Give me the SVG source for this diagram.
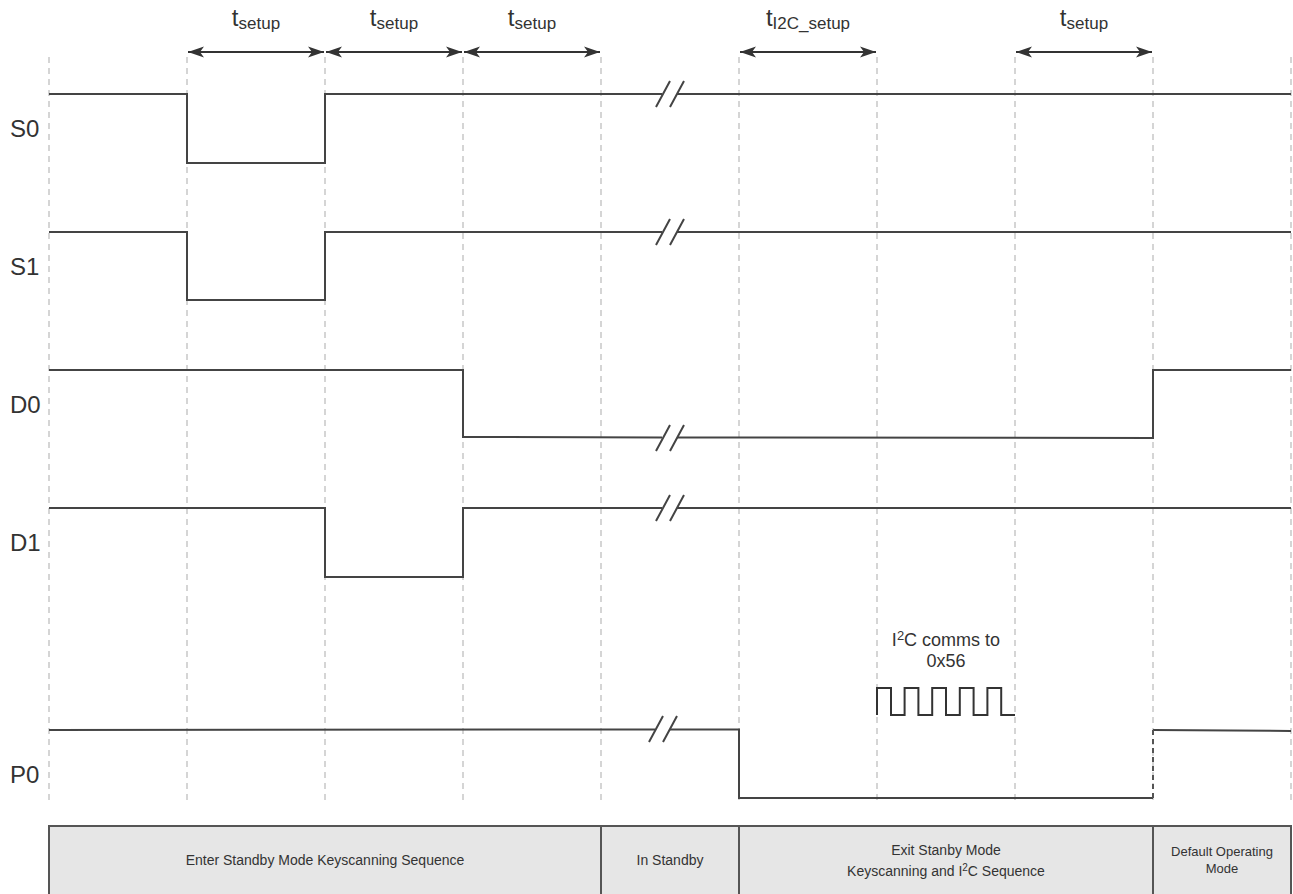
<svg xmlns="http://www.w3.org/2000/svg" width="1293" height="894" viewBox="0 0 1293 894">
<style>
text{font-family:"Liberation Sans",Arial,sans-serif;fill:#333}
.guide{stroke:#c8c8c8;stroke-width:1.5;stroke-dasharray:6 5;fill:none}
.sig{stroke:#444;stroke-width:2;fill:none}
.brk{stroke:#444;stroke-width:2;fill:none}
.dim{stroke:#333;stroke-width:2;fill:none;marker-start:url(#ah);marker-end:url(#ah)}
.lbl{font-size:24px}
.tl{font-size:24px;text-anchor:middle}
.sub{font-size:17px}
.box{fill:#e6e6e6;stroke:#555;stroke-width:2}
.bt{font-size:14px;text-anchor:middle}
.bt2{font-size:13px;text-anchor:middle}
</style>
<defs>
<marker id="ah" viewBox="-17 -6 18 12" refX="0" refY="0" markerWidth="18" markerHeight="12" markerUnits="userSpaceOnUse" orient="auto-start-reverse">
<path d="M0,0 L-16,-5.5 L-12,0 L-16,5.5 Z" fill="#333"/>
</marker>
</defs>
<g id="guides">
<path class="guide" d="M49,57V800M187,57V800M325,57V800M463,57V800M601,57V800M739,57V800M877,57V800M1015,57V800M1153,57V800M1291,57V800"/>
</g>
<g id="timing-labels">
<text class="tl" x="256" y="26">t<tspan class="sub" dy="2.5">setup</tspan></text>
<text class="tl" x="394" y="26">t<tspan class="sub" dy="2.5">setup</tspan></text>
<text class="tl" x="532" y="26">t<tspan class="sub" dy="2.5">setup</tspan></text>
<text class="tl" x="808" y="26">t<tspan class="sub" dy="2.5">I2C_setup</tspan></text>
<text class="tl" x="1084" y="26">t<tspan class="sub" dy="2.5">setup</tspan></text>
</g>
<g id="connectors">
<path class="dim" d="M188,52H324"/>
<path class="dim" d="M326,52H462"/>
<path class="dim" d="M464,52H600"/>
<path class="dim" d="M740,52H876"/>
<path class="dim" d="M1016,52H1152"/>
</g>
<g id="S0">
<text class="lbl" x="10" y="137">S0</text>
<path class="sig" d="M49,94H187V163H325V94H662M677,94H1291"/>
<path class="brk" d="M656,107L670,81M670,107L684,81"/>
</g>
<g id="S1">
<text class="lbl" x="10" y="275">S1</text>
<path class="sig" d="M49,232H187V300H325V232H662M677,232H1291"/>
<path class="brk" d="M656,245L670,219M670,245L684,219"/>
</g>
<g id="D0">
<text class="lbl" x="10" y="413">D0</text>
<path class="sig" d="M49,370H463V437L662,437.5M677,437.5L1153,438V370H1291"/>
<path class="brk" d="M656,451L670,425M670,451L684,425"/>
</g>
<g id="D1">
<text class="lbl" x="10" y="551">D1</text>
<path class="sig" d="M49,508H325V577H463V508H662M677,508H1291"/>
<path class="brk" d="M656,521L670,495M670,521L684,495"/>
</g>
<g id="P0">
<text class="lbl" x="10" y="783">P0</text>
<path class="sig" d="M49,730L655,729.5M670,729.5H739V798H1153M1153,730L1291,731"/>
<path d="M1153,730V798" stroke="#555" stroke-width="2" stroke-dasharray="5 4" fill="none"/>
<path class="brk" d="M649,742L663,716M663,742L677,716"/>
</g>
<g id="i2c-comms">
<text x="946" y="646" font-size="18" text-anchor="middle">I<tspan font-size="13" dy="-6">2</tspan><tspan dy="6">C comms to</tspan></text>
<text x="946" y="667" font-size="18" text-anchor="middle">0x56</text>
<path stroke="#333" stroke-width="2" fill="none" d="M877,715V688H891V715H904.6V688H918.4V715H932.2V688H946V715H959.8V688H973.6V715H987.4V688H1001.2V715H1015"/>
</g>
<g id="phase-enter">
<rect class="box" x="49" y="826" width="552" height="80"/>
<text class="bt" x="325" y="865">Enter Standby Mode Keyscanning Sequence</text>
</g>
<g id="phase-standby">
<rect class="box" x="601" y="826" width="138" height="80"/>
<text class="bt" x="670" y="865">In Standby</text>
</g>
<g id="phase-exit">
<rect class="box" x="739" y="826" width="414" height="80"/>
<text class="bt" x="946" y="855">Exit Stanby Mode</text>
<text class="bt" x="946" y="876">Keyscanning and I<tspan font-size="10" dy="-5">2</tspan><tspan dy="5">C Sequence</tspan></text>
</g>
<g id="phase-default">
<rect class="box" x="1153" y="826" width="138" height="80"/>
<text class="bt2" x="1222" y="856">Default Operating</text>
<text class="bt2" x="1222" y="873">Mode</text>
</g>
</svg>
